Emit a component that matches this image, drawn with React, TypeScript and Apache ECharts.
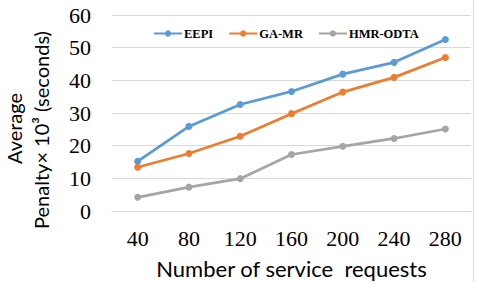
import React, { useEffect, useRef } from "react";
import * as echarts from "echarts";

const categories = ["40", "80", "120", "160", "200", "240", "280"];
const eepi = [15.2, 25.9, 32.6, 36.6, 41.9, 45.5, 52.5];
const gamr = [13.4, 17.6, 22.9, 29.8, 36.4, 40.9, 47.0];
const hmrOdta = [4.2, 7.3, 9.9, 17.3, 19.8, 22.2, 25.1];
const seriesNames = ["EEPI", "GA-MR", "HMR-ODTA"];
const colors = ["#5B9BD5", "#ED7D31", "#A5A5A5"];
const xTitle = "Number of service  requests";
const yTitle1 = "Average";
const yTitle2 = "Penalty× 10³ (seconds)";

export default function App() {
  const ref = useRef<HTMLDivElement>(null);
  useEffect(() => {
    if (!ref.current) return;
    const chart = echarts.init(ref.current, null, { renderer: "svg" });
    const data = [eepi, gamr, hmrOdta];
    chart.setOption({
      animation: false,
      backgroundColor: "#ffffff",
      grid: { left: 112, right: 6, top: 15, bottom: 71, containLabel: false },
      legend: {
        left: 153,
        top: 27,
        padding: 0,
        itemWidth: 28,
        itemHeight: 8,
        itemGap: 15,
        data: seriesNames,
        textStyle: {
          fontFamily: "Liberation Serif",
          fontWeight: "bold",
          fontSize: 12.5,
          color: "#000",
          padding: [0, 0, 0, -3],
        },
      },
      xAxis: {
        type: "category",
        data: categories,
        boundaryGap: true,
        axisLine: { show: true, lineStyle: { color: "#D9D9D9", width: 1 } },
        axisTick: { show: false },
        axisLabel: {
          fontFamily: "Liberation Serif",
          fontSize: 22,
          color: "#000",
          margin: 16,
        },
      },
      yAxis: {
        type: "value",
        min: 0,
        max: 60,
        interval: 10,
        axisLine: { show: false },
        axisTick: { show: false },
        splitLine: { lineStyle: { color: "#D9D9D9", width: 1 } },
        axisLabel: {
          fontFamily: "Liberation Serif",
          fontSize: 22,
          color: "#000",
          margin: 21,
        },
      },
      series: seriesNames.map((name, i) => ({
        name,
        type: "line",
        data: data[i],
        symbol: "circle",
        symbolSize: 7,
        color: colors[i],
        lineStyle: { width: 2.75, color: colors[i] },
        itemStyle: { color: colors[i] },
      })),
      graphic: [
        {
          type: "text",
          x: 291.5,
          y: 268,
          style: {
            text: xTitle,
            fontFamily: "Lato",
            fontSize: 22,
            fill: "#000",
            textAlign: "center",
            textVerticalAlign: "middle",
          },
        },
        {
          type: "text",
          x: 14,
          y: 128.5,
          rotation: Math.PI / 2,
          style: {
            text: yTitle1,
            fontFamily: "Lato",
            fontSize: 20,
            fill: "#000",
            textAlign: "center",
            textVerticalAlign: "middle",
          },
        },
        {
          type: "text",
          x: 41,
          y: 130,
          rotation: Math.PI / 2,
          style: {
            text: yTitle2,
            fontFamily: "Lato",
            fontSize: 20,
            fill: "#000",
            textAlign: "center",
            textVerticalAlign: "middle",
          },
        },
        {
          type: "line",
          shape: { x1: 473.5, y1: 0, x2: 473.5, y2: 282 },
          style: { stroke: "#D9D9D9", lineWidth: 1 },
        },
      ],
    });
    return () => chart.dispose();
  }, []);
  return (
    <div
      ref={ref}
      style={{ position: "absolute", left: 0, top: 0, width: 477, height: 282 }}
    />
  );
}
